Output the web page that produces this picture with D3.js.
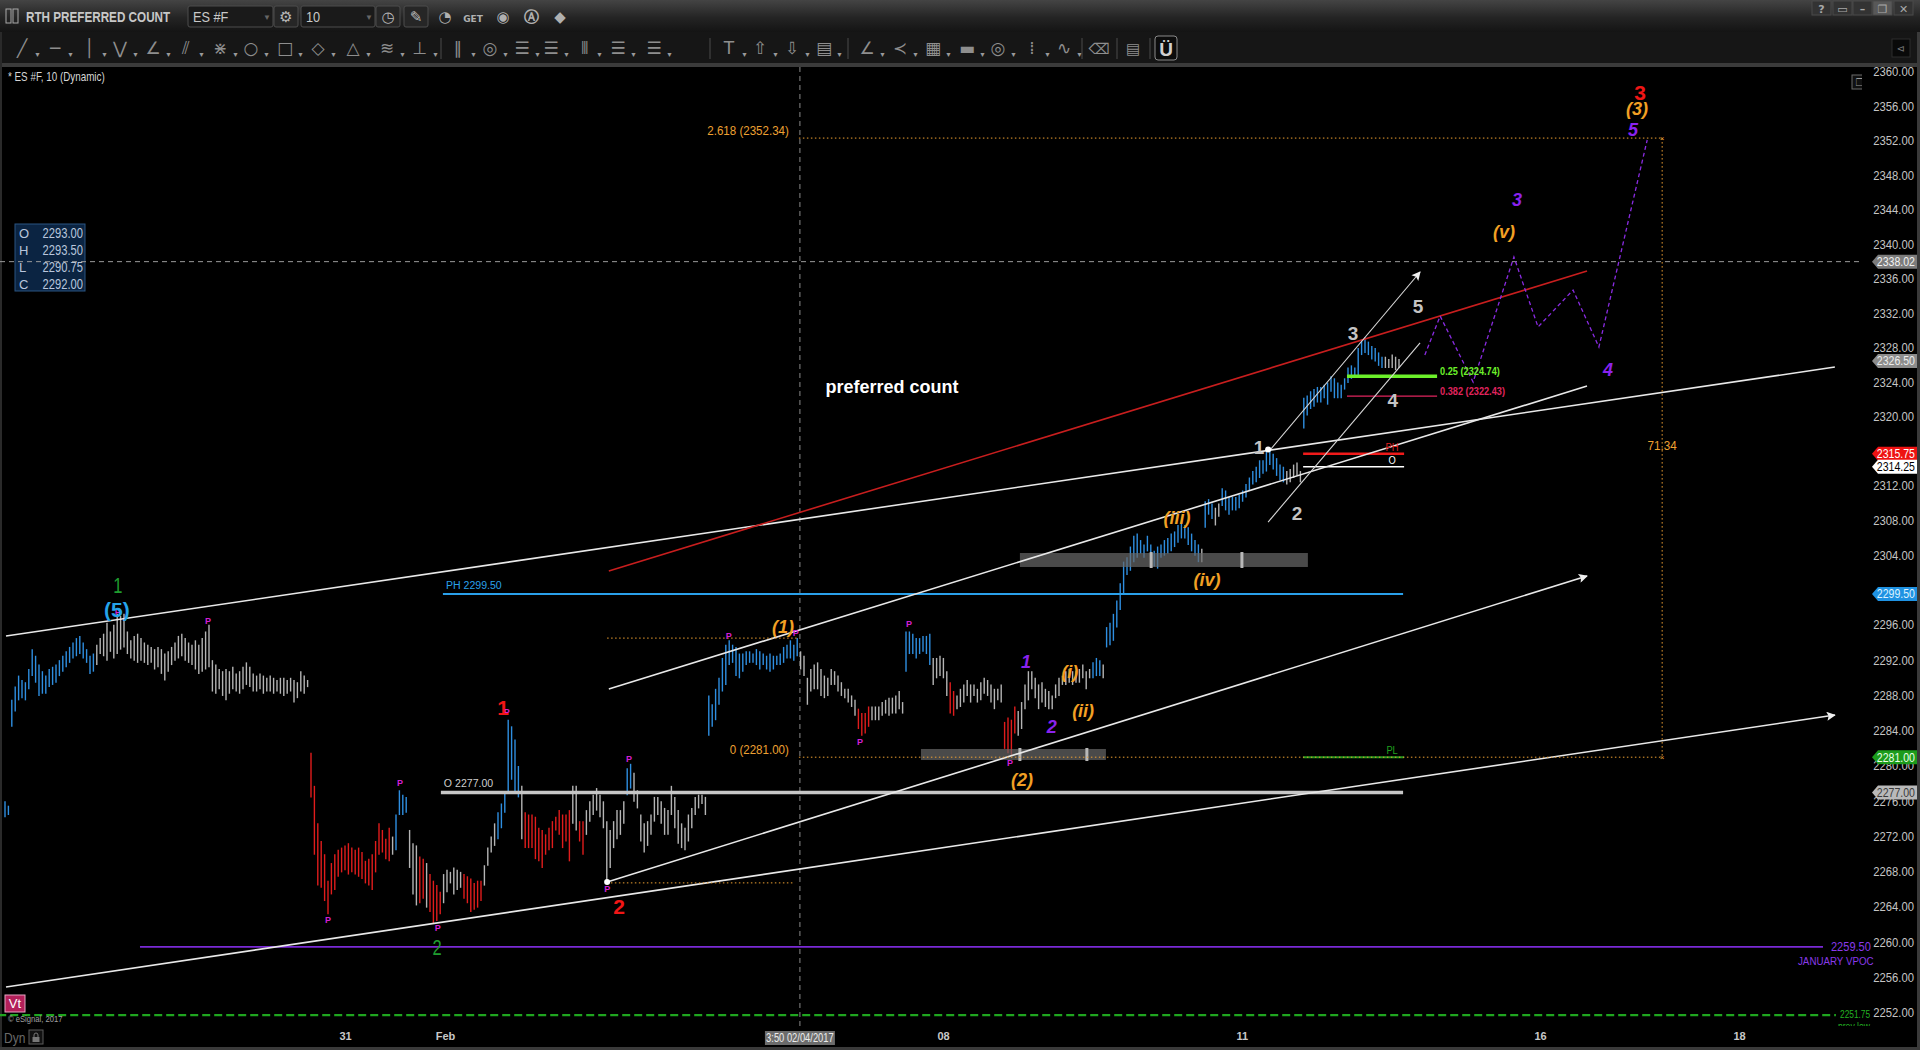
<!DOCTYPE html>
<html>
<head>
<meta charset="utf-8">
<title>RTH PREFERRED COUNT</title>
<script src="https://d3js.org/d3.v7.min.js"></script>
<style>
  html, body { margin: 0; padding: 0; background: #000; overflow: hidden; }
  #chart svg { display: block; }
</style>
</head>
<body>
<div id="chart"></div>
<script>
const SANS = "'Liberation Sans', Arial, sans-serif";

// ---------- 10 min bars: [high, low, trend]  u = up, d = down, n = neutral ----------
const segA = [[2276.0,2274.25,"u"],[2275.5,2274.5,"u"]];

const segB = [
  [2287.5,2284.5,"u"],[2289.0,2286.25,"u"],[2290.25,2287.5,"u"],[2289.75,2287.75,"u"],[2289.5,2287.5,"u"],
  [2291.0,2288.75,"u"],[2293.25,2290.25,"u"],[2292.5,2289.5,"u"],[2291.5,2288.0,"u"],[2290.75,2288.25,"u"],
  [2290.25,2288.25,"u"],[2291.0,2289.0,"u"],[2291.25,2289.25,"u"],[2291.5,2289.5,"u"],[2292.0,2290.25,"u"],
  [2292.5,2290.75,"u"],[2293.0,2291.25,"u"],[2293.5,2291.75,"u"],[2294.0,2292.25,"u"],[2294.5,2292.5,"u"],
  [2294.75,2292.75,"u"],[2294.0,2292.25,"u"],[2293.25,2291.75,"u"],[2292.5,2290.5,"u"],[2292.75,2290.75,"u"],
  [2293.75,2291.5,"n"],[2294.5,2292.75,"n"],[2295.0,2292.5,"n"],[2296.25,2292.0,"n"],[2295.25,2293.0,"n"],
  [2296.0,2292.25,"n"],[2297.25,2292.75,"n"],[2297.0,2293.25,"n"],[2297.25,2293.5,"n"],[2295.25,2292.75,"n"],
  [2294.25,2292.25,"n"],[2294.75,2292.0,"n"],[2295.0,2291.75,"n"],[2294.5,2292.0,"n"],[2294.0,2291.75,"n"],
  [2293.75,2291.5,"n"],[2293.5,2291.75,"n"],[2293.25,2291.0,"n"],[2293.5,2291.25,"n"],[2293.25,2290.5,"n"],
  [2292.75,2289.75,"n"],[2293.0,2290.75,"n"],[2293.5,2291.5,"n"],[2294.0,2292.0,"n"],[2294.75,2292.25,"n"],
  [2295.0,2292.5,"n"],[2294.5,2292.0,"n"],[2294.0,2291.75,"n"],[2293.75,2291.5,"n"],[2294.25,2291.0,"n"],
  [2293.75,2290.5,"n"],[2294.5,2290.75,"n"],[2295.25,2291.0,"n"],[2296.0,2291.25,"n"],[2292.0,2288.5,"n"],
  [2291.5,2288.25,"n"],[2291.0,2288.75,"n"],[2290.75,2288.0,"n"],[2291.0,2287.5,"n"],[2290.75,2288.25,"n"],
  [2291.25,2288.75,"n"],[2290.5,2288.5,"n"],[2290.75,2288.25,"n"],[2291.25,2288.75,"n"],[2291.75,2289.25,"n"],
  [2291.25,2289.0,"n"],[2290.5,2288.5,"n"],[2290.25,2288.5,"n"],[2290.5,2288.75,"n"],[2290.25,2288.25,"n"],
  [2290.0,2288.5,"n"],[2290.25,2288.5,"n"],[2290.0,2288.25,"n"],[2289.75,2288.5,"n"],[2290.0,2288.25,"n"],
  [2290.0,2288.0,"n"],[2289.75,2288.25,"n"],[2290.0,2288.5,"n"],[2289.75,2287.25,"n"],[2289.5,2287.75,"n"],
  [2290.75,2288.5,"n"],[2290.25,2288.25,"n"],[2289.75,2289.0,"n"]
];

const segC = [
  [2281.5,2276.5,"d"],[2277.75,2270.0,"d"],[2273.5,2266.5,"d"],[2271.5,2266.25,"d"],[2270.0,2264.75,"d"],
  [2267.0,2263.25,"d"],[2269.0,2265.5,"d"],[2270.0,2266.0,"d"],[2270.5,2267.5,"d"],[2270.75,2268.0,"d"],
  [2271.0,2268.25,"d"],[2271.25,2267.75,"d"],[2270.75,2268.0,"d"],[2270.5,2267.75,"d"],[2270.75,2267.5,"d"],
  [2270.25,2267.25,"d"],[2269.25,2266.75,"d"],[2269.5,2266.5,"d"],[2270.0,2266.0,"d"],[2271.5,2268.0,"d"],
  [2273.5,2270.0,"d"],[2272.75,2270.25,"d"],[2271.75,2269.5,"d"],[2273.0,2269.25,"d"],[2272.0,2270.0,"n"],
  [2274.5,2270.5,"u"],[2277.25,2274.5,"u"],[2276.75,2274.5,"u"],[2276.5,2274.75,"u"],[2272.75,2268.5,"n"],
  [2271.25,2265.5,"n"],[2271.0,2264.25,"n"],[2269.75,2264.5,"d"],[2269.5,2265.0,"d"],[2269.0,2264.0,"n"],
  [2267.75,2263.5,"d"],[2267.0,2262.25,"d"],[2266.5,2262.5,"d"],[2265.75,2263.25,"d"],[2267.75,2264.5,"n"],
  [2268.25,2265.75,"n"],[2268.0,2266.75,"n"],[2268.5,2265.5,"n"],[2268.25,2266.0,"n"],[2268.0,2266.25,"n"],
  [2267.75,2265.0,"d"],[2267.5,2264.5,"d"],[2267.25,2263.5,"d"],[2266.75,2263.75,"d"],[2267.0,2264.0,"d"],
  [2267.0,2264.75,"d"],[2268.75,2266.5,"n"],[2270.75,2268.75,"n"],[2272.0,2270.25,"n"],[2273.5,2271.0,"n"],
  [2274.75,2271.75,"u"],[2275.75,2273.0,"u"],[2277.0,2274.75,"u"],[2285.25,2277.0,"u"],[2284.5,2278.5,"u"],
  [2283.0,2277.0,"u"],[2280.0,2276.5,"u"],[2277.75,2271.75,"n"],[2274.75,2270.75,"d"],[2274.5,2270.75,"d"],
  [2274.5,2270.75,"d"],[2274.25,2269.5,"d"],[2273.0,2269.25,"d"],[2272.75,2268.5,"d"],[2272.25,2270.0,"d"],
  [2273.0,2270.5,"d"],[2273.75,2270.75,"d"],[2274.25,2272.75,"d"],[2275.0,2272.25,"d"],[2274.5,2270.75,"d"],
  [2274.5,2271.5,"d"],[2275.0,2269.25,"d"],[2277.75,2273.5,"n"],[2277.75,2272.75,"n"],[2273.75,2271.5,"d"],
  [2273.75,2270.0,"d"],[2275.0,2272.25,"n"],[2276.0,2273.75,"n"],[2276.75,2274.5,"n"],[2277.5,2275.0,"n"],
  [2276.75,2274.25,"n"],[2276.0,2273.0,"n"],[2273.75,2266.75,"n"],[2272.75,2268.5,"n"],[2273.75,2270.75,"n"],
  [2275.0,2271.75,"n"],[2275.0,2272.25,"n"],[2276.0,2273.5,"n"],[2279.75,2276.75,"u"],[2280.25,2277.5,"u"],
  [2279.25,2276.0,"n"],[2277.25,2275.25,"n"],[2274.5,2271.5,"n"],[2273.5,2270.25,"n"],[2273.75,2271.0,"n"],
  [2274.5,2272.25,"n"],[2276.5,2273.75,"n"],[2276.5,2274.5,"n"],[2276.0,2273.5,"n"],[2275.25,2272.25,"n"],
  [2275.0,2272.25,"n"],[2277.75,2274.5,"n"],[2276.5,2273.0,"n"],[2275.0,2271.25,"n"],[2273.5,2270.75,"n"],
  [2273.0,2270.5,"n"],[2274.5,2271.5,"n"],[2275.25,2273.0,"n"],[2276.5,2274.5,"n"],[2276.75,2275.25,"n"],
  [2276.75,2275.75,"n"],[2276.5,2274.5,"n"]
];

const segD = [
  [2288.0,2283.5,"u"],[2287.0,2284.5,"u"],[2288.75,2285.25,"u"],[2290.0,2287.0,"u"],[2292.25,2288.5,"u"],
  [2293.75,2289.25,"u"],[2294.25,2291.5,"u"],[2293.75,2291.75,"u"],[2293.5,2290.25,"u"],[2292.75,2290.0,"u"],
  [2292.75,2290.75,"u"],[2293.0,2291.5,"u"],[2293.0,2291.75,"u"],[2292.75,2291.75,"u"],[2293.25,2291.5,"u"],
  [2293.0,2291.0,"u"],[2292.75,2291.5,"u"],[2292.5,2291.0,"u"],[2292.75,2290.75,"u"],[2292.5,2291.0,"u"],
  [2292.5,2291.5,"u"],[2292.75,2291.5,"u"],[2293.5,2291.75,"u"],[2293.75,2292.25,"u"],[2294.25,2292.25,"u"],
  [2293.75,2292.0,"u"],[2294.5,2292.5,"u"],
  [2293.0,2291.0,"n"],[2292.5,2290.25,"n"],[2290.0,2287.0,"n"],[2291.0,2288.5,"n"],[2291.5,2288.75,"n"],
  [2291.75,2288.75,"n"],[2291.0,2288.0,"n"],[2290.25,2287.75,"n"],[2290.0,2288.0,"n"],[2291.0,2289.25,"n"],
  [2290.75,2289.25,"n"],[2290.25,2288.5,"n"],[2289.5,2288.0,"n"],[2288.75,2287.75,"n"],[2288.75,2287.25,"n"],
  [2288.0,2286.75,"n"],[2287.5,2285.75,"n"],[2286.5,2284.25,"d"],[2286.0,2283.5,"d"],[2286.0,2283.75,"d"],
  [2286.75,2284.5,"d"],[2286.75,2285.25,"n"],[2286.75,2285.25,"n"],[2286.75,2285.25,"n"],[2287.25,2285.75,"n"],
  [2287.5,2286.0,"n"],[2287.75,2285.75,"n"],[2287.75,2286.0,"n"],[2288.0,2286.0,"n"],[2288.5,2286.5,"n"],
  [2287.25,2286.0,"n"]
];

const segE = [
  [2295.25,2290.75,"u"],[2295.25,2292.75,"u"],[2295.0,2292.75,"u"],[2294.5,2292.25,"u"],[2294.5,2292.75,"u"],
  [2294.75,2293.0,"u"],[2294.75,2292.75,"u"],[2295.0,2291.5,"u"],[2292.25,2289.25,"n"],[2292.25,2290.0,"n"],
  [2292.5,2290.25,"n"],[2292.25,2290.0,"n"],[2290.75,2288.0,"n"],[2289.5,2286.0,"d"],[2288.5,2285.75,"d"],
  [2288.0,2286.5,"n"],[2288.75,2286.75,"n"],[2289.25,2287.25,"n"],[2289.75,2288.0,"n"],[2289.25,2287.25,"n"],
  [2289.25,2288.0,"n"],[2288.75,2287.25,"n"],[2289.5,2287.5,"n"],[2290.0,2288.25,"n"],[2289.75,2288.0,"n"],
  [2289.25,2287.25,"n"],[2288.75,2286.5,"n"],[2288.75,2287.5,"n"],[2289.25,2287.25,"n"],[2285.0,2282.0,"d"],
  [2285.5,2281.5,"d"],[2285.25,2281.25,"d"],[2286.75,2283.75,"d"],[2286.25,2283.5,"n"],[2287.25,2284.25,"n"],
  [2289.25,2286.5,"n"],[2290.75,2287.5,"n"],[2290.75,2288.75,"n"],[2290.0,2287.75,"n"],[2289.25,2286.5,"n"],
  [2289.5,2287.25,"n"],[2288.75,2286.75,"n"],[2288.5,2286.5,"n"],[2288.0,2286.5,"n"],[2289.25,2287.75,"n"],
  [2290.0,2288.0,"n"],[2290.25,2289.25,"n"],[2290.75,2289.25,"n"],[2291.0,2289.5,"n"],[2290.75,2289.25,"n"],
  [2290.75,2289.5,"n"],[2291.0,2289.5,"n"],[2291.5,2290.0,"n"],[2290.75,2288.75,"n"],[2291.0,2290.0,"n"],
  [2291.75,2290.0,"u"],[2292.25,2290.25,"u"],[2292.0,2290.25,"u"],[2291.5,2290.0,"n"],[2295.75,2293.5,"u"],
  [2296.25,2293.75,"u"],[2297.25,2294.25,"u"],[2298.75,2295.75,"u"],[2300.75,2297.75,"u"],[2303.25,2299.5,"u"],
  [2303.75,2301.75,"u"],[2305.0,2302.25,"u"],[2306.25,2303.25,"u"],[2306.5,2303.75,"u"],[2305.75,2304.25,"u"],
  [2305.25,2303.75,"u"],[2306.25,2304.5,"u"],[2305.25,2303.25,"u"],[2304.5,2302.75,"u"],[2305.0,2302.5,"u"],
  [2305.25,2303.75,"u"],[2305.75,2304.0,"u"],[2306.0,2304.25,"u"],[2306.5,2304.5,"u"],[2306.75,2305.0,"u"],
  [2307.5,2305.5,"u"],[2308.0,2306.0,"u"],[2307.5,2306.0,"u"],[2307.25,2305.25,"u"],[2306.5,2304.5,"u"],
  [2305.75,2304.0,"u"],[2305.25,2303.25,"u"],[2304.75,2303.25,"n"]
];

const segF = [
  [2310.25,2307.25,"u"],[2310.5,2308.75,"u"],[2310.0,2308.25,"u"],[2309.5,2307.5,"n"],[2310.0,2308.5,"n"],
  [2311.75,2309.75,"u"],[2311.5,2309.25,"u"],[2310.75,2308.75,"u"],[2310.75,2309.25,"u"],[2310.75,2309.25,"u"],
  [2311.0,2309.5,"u"],[2311.5,2310.25,"u"],[2312.25,2310.75,"u"],[2313.0,2311.5,"u"],[2313.75,2312.25,"u"],
  [2314.25,2312.5,"u"],[2315.0,2313.0,"u"],[2315.0,2313.5,"u"],[2316.0,2313.75,"u"],[2316.5,2314.5,"u"],
  [2315.75,2314.0,"u"],[2315.25,2313.25,"u"],[2314.5,2312.75,"u"],[2314.25,2312.5,"u"],[2313.75,2312.25,"n"],
  [2314.0,2312.5,"n"],[2314.5,2313.0,"n"],[2314.75,2313.25,"n"],[2313.75,2312.5,"n"]
];

const segG = [
  [2322.25,2318.75,"u"],[2322.5,2320.25,"u"],[2323.0,2321.0,"u"],[2323.25,2321.25,"u"],[2323.5,2321.75,"u"],
  [2323.5,2321.75,"u"],[2323.75,2322.25,"u"],[2324.0,2321.5,"u"],[2324.75,2323.0,"u"],[2324.5,2322.25,"u"],
  [2324.0,2322.25,"u"],[2323.75,2322.25,"u"],[2324.5,2323.25,"u"],[2325.75,2324.0,"u"],[2326.0,2324.5,"u"],
  [2325.75,2324.75,"u"],[2328.0,2324.75,"u"],[2329.0,2327.25,"u"],[2329.25,2327.5,"u"],[2328.75,2327.25,"u"],
  [2328.25,2326.75,"u"],[2328.0,2326.5,"u"],[2327.5,2326.0,"u"],[2327.0,2325.75,"u"],[2327.0,2325.75,"n"],
  [2326.75,2325.75,"n"],[2327.25,2325.75,"n"],[2327.0,2325.5,"n"],[2326.75,2325.75,"n"]
];

const bars = [].concat(segA, segB, segC, segD, segE, segF, segG);

// ---------- axes ----------
const priceTicks = [2360,2356,2352,2348,2344,2340,2336,2332,2328,2324,2320,2316,2312,2308,2304,2300,
  2296,2292,2288,2284,2280,2276,2272,2268,2264,2260,2256,2252];
// bar-index positions of the date labels (future days continue the same spacing)
const dateTicks = [
  {k: 100, label: "31"}, {k: 129.4, label: "Feb"}, {k: 275.9, label: "08"},
  {k: 363.8, label: "11"}, {k: 451.5, label: "16"}, {k: 510, label: "18"}
];
const cursor = {k: 233.8, p: 2338.02, label: "3:50 02/04/2017"};
const ohlc = [["O", "2293.00"], ["H", "2293.50"], ["L", "2290.75"], ["C", "2292.00"]];

const priceFlags = [
  {v: 2338.02, kind: "cursor"}, {v: 2326.50, kind: "last"}, {v: 2315.75, kind: "ph"},
  {v: 2314.25, kind: "o"}, {v: 2299.50, kind: "prevHigh"}, {v: 2281.00, kind: "pl"}, {v: 2277.00, kind: "open"}
];

// ---------- drawings (bar index, price) ----------
const trendLines = [
  {a: [0.3, 2294.74], b: [538.2, 2325.8], kind: "white"},
  {a: [0.3, 2254.94], b: [538.2, 2285.78], kind: "whiteArrow"},
  {a: [177.1, 2266.85], b: [465.3, 2301.59], kind: "whiteArrow"},
  {a: [177.6, 2288.73], b: [465.3, 2323.6], kind: "white"},
  {a: [177.6, 2302.17], b: [465.3, 2336.94], kind: "red"},
  {a: [372.1, 2316.19], b: [416.2, 2336.82], kind: "thinArrow"},
  {a: [371.5, 2307.84], b: [416.2, 2328.6], kind: "thin"}
];

const levels = [
  {p: 2299.50, k0: 128.8, k1: 411.2, kind: "prevHigh", label: "PH 2299.50"},
  {p: 2277.00, k0: 128.2, k1: 411.2, kind: "open", label: "O 2277.00"},
  {p: 2259.50, k0: 39.7, k1: 534.7, kind: "vpoc"},
  {p: 2251.75, k0: -2, k1: 538.5, kind: "prevLow"},
  {p: 2315.75, k0: 381.8, k1: 411.5, kind: "ph", label: "PH"},
  {p: 2314.25, k0: 381.8, k1: 411.5, kind: "o", label: "O"},
  {p: 2281.00, k0: 381.8, k1: 411.5, kind: "pl", label: "PL"},
  {p: 2324.74, k0: 394.7, k1: 421.2, kind: "fib25", label: "0.25 (2324.74)"},
  {p: 2322.43, k0: 394.7, k1: 421.2, kind: "fib382", label: "0.382 (2322.43)"}
];

const fibLevels = [{ratio: "2.618", p: 2352.34}, {ratio: "0", p: 2281.00}];
const fibSpan = {k0: 233.5, k1: 487.4, label: "71.34"};
const fibSource = [{p: 2294.5, k0: 177.1, k1: 232.9}, {p: 2266.75, k0: 178.2, k1: 231.8}];

const grayZones = [
  {k0: 269.4, k1: 323.8, hi: 2281.93, lo: 2280.68, marks: [298.5, 318.2]},
  {k0: 298.5, k1: 383.2, hi: 2304.25, lo: 2302.63, marks: [337.1, 363.8]}
];

const projection = [
  [417.6, 2327.2], [422.1, 2331.72], [431.8, 2324.07], [443.8, 2338.56],
  [450.9, 2330.45], [461.2, 2334.73], [468.8, 2328.13], [483.0, 2352.12]
];

const waveLabels = [
  {t: "1", k: 33.2, p: 2300.5, deg: "primary"},
  {t: "(5)", k: 32.9, p: 2297.7, deg: "cycle"},
  {t: "1", k: 146.5, p: 2286.6, deg: "major"},
  {t: "2", k: 127.1, p: 2259.5, deg: "primary"},
  {t: "2", k: 180.6, p: 2264.0, deg: "major"},
  {t: "(1)", k: 228.8, p: 2295.76, deg: "inter"},
  {t: "(2)", k: 299.1, p: 2278.5, deg: "inter"},
  {t: "1", k: 300.3, p: 2291.8, deg: "minor"},
  {t: "2", k: 307.9, p: 2284.4, deg: "minor"},
  {t: "(i)", k: 313.2, p: 2290.66, deg: "inter"},
  {t: "(ii)", k: 317.1, p: 2286.23, deg: "inter"},
  {t: "(iii)", k: 344.7, p: 2308.3, deg: "inter"},
  {t: "(iv)", k: 353.5, p: 2301.1, deg: "inter"},
  {t: "1", k: 368.8, p: 2316.5, deg: "sub"},
  {t: "2", k: 380.0, p: 2308.9, deg: "sub"},
  {t: "3", k: 396.5, p: 2329.75, deg: "sub"},
  {t: "4", k: 408.2, p: 2322.0, deg: "sub"},
  {t: "5", k: 415.6, p: 2332.8, deg: "sub"},
  {t: "(v)", k: 440.9, p: 2341.46, deg: "inter"},
  {t: "3", k: 444.7, p: 2345.2, deg: "minor"},
  {t: "4", k: 471.5, p: 2325.46, deg: "minor"},
  {t: "5", k: 478.8, p: 2353.28, deg: "minor"},
  {t: "(3)", k: 480.0, p: 2355.7, deg: "inter"},
  {t: "3", k: 480.9, p: 2357.6, deg: "major"}
];

const pivots = [
  [33.2, 2297.46], [59.7, 2296.44], [95, 2262.54], [116.2, 2278.07], [127.3, 2261.63],
  [147.6, 2286.12], [177.1, 2266.05], [183.5, 2280.79], [212.9, 2294.74], [232.6, 2295.08],
  [251.5, 2282.72], [265.9, 2296.1], [295.6, 2280.34]
];
const anchorDots = [[177.1, 2266.85], [371.5, 2316.25]];
const note = {t: "preferred count", k: 260.9, p: 2323.5};

// ---------- styles ----------
const trendColor = {u: "#2e8ee0", d: "#e01c1c", n: "#b4b4b4"};
const degStyle = {
  primary: {fill: "#1f9d2f", size: 22, weight: "normal", italic: false, squeeze: 0.75},
  cycle: {fill: "#25a3ea", size: 21, weight: "bold", italic: false},
  major: {fill: "#f01616", size: 21, weight: "bold", italic: false},
  inter: {fill: "#f2a024", size: 18, weight: "bold", italic: true},
  minor: {fill: "#8a22ee", size: 18, weight: "bold", italic: true},
  sub: {fill: "#c4c4c4", size: 19, weight: "bold", italic: false}
};
const flagStyle = {
  cursor: {bg: "#7c7c7c", fg: "#f2f2f2"}, last: {bg: "#8c8c8c", fg: "#ececec"},
  ph: {bg: "#ee1212", fg: "#ffffff"}, o: {bg: "#ffffff", fg: "#000000"},
  prevHigh: {bg: "#1f92e2", fg: "#dff2ff"}, pl: {bg: "#1c9c1c", fg: "#eaffea"},
  open: {bg: "#b9b9b9", fg: "#3a3a3a"}
};
const levelStyle = {
  prevHigh: {stroke: "#2aa0ea", width: 2, label: "#2aa0ea"},
  open: {stroke: "#c6c6c6", width: 3.5, label: "#cfcfcf"},
  vpoc: {stroke: "#7a2ad6", width: 1.6},
  prevLow: {stroke: "#1fa51f", width: 2.2, dash: "8,4"},
  ph: {stroke: "#f01a1a", width: 2.5, label: "#e02020"},
  o: {stroke: "#ffffff", width: 1.5, label: "#ffffff"},
  pl: {stroke: "#1f9a1f", width: 2, label: "#1fa01f"},
  fib25: {stroke: "#6cf02a", width: 3.5, label: "#6cf02a"},
  fib382: {stroke: "#e0245e", width: 1.2, label: "#e0245e"}
};
const lineStyle = {
  white: {stroke: "#e8e8e8", width: 1.6}, whiteArrow: {stroke: "#e8e8e8", width: 1.6, arrow: true},
  red: {stroke: "#c81e1e", width: 1.6}, thin: {stroke: "#d8d8d8", width: 1.1},
  thinArrow: {stroke: "#d8d8d8", width: 1.1, arrow: true}
};
const ORANGE = "#eea032";

// no condensed face is installed, so narrow texts are scaled horizontally about their x
function squeeze(sel, f) {
  sel.each(function() {
    const ax = +this.getAttribute("x") || 0;
    d3.select(this).attr("transform", `translate(${ax * (1 - f)},0) scale(${f},1)`);
  });
  return sel;
}

// ---------- canvas ----------
const W = 1920, H = 1050;
const svg = d3.select("#chart").append("svg").attr("width", W).attr("height", H)
  .style("font-family", SANS);

const x = d3.scaleLinear().domain([0, 410]).range([5, 1399]);
const y = d3.scaleLinear().domain([2252, 2299.5, 2360]).range([1013, 594, 72]);

const defs = svg.append("defs");
const tg = defs.append("linearGradient").attr("id", "titleGrad").attr("x1", 0).attr("y1", 0).attr("x2", 0).attr("y2", 1);
tg.append("stop").attr("offset", "0%").attr("stop-color", "#444");
tg.append("stop").attr("offset", "55%").attr("stop-color", "#242424");
tg.append("stop").attr("offset", "100%").attr("stop-color", "#141414");
defs.append("clipPath").attr("id", "plotClip").append("rect")
  .attr("x", 0).attr("y", 67).attr("width", 1862).attr("height", 959);
defs.append("clipPath").attr("id", "labelClip").append("rect")
  .attr("x", 0).attr("y", 67).attr("width", 1880).attr("height", 959);
defs.append("marker").attr("id", "arrow").attr("viewBox", "0 0 10 10")
  .attr("refX", 9).attr("refY", 5).attr("markerWidth", 11).attr("markerHeight", 9)
  .attr("markerUnits", "userSpaceOnUse").attr("orient", "auto")
  .append("path").attr("d", "M0,0 L10,5 L0,10 L2,5 Z").attr("fill", "#f0f0f0");

svg.append("rect").attr("width", W).attr("height", H).attr("fill", "#000");

// title bar
svg.append("rect").attr("width", W).attr("height", 32).attr("fill", "url(#titleGrad)");
svg.append("rect").attr("x", 6).attr("y", 9).attr("width", 5).attr("height", 14).attr("fill", "none").attr("stroke", "#aaa");
svg.append("rect").attr("x", 13).attr("y", 9).attr("width", 5).attr("height", 14).attr("fill", "none").attr("stroke", "#aaa");
squeeze(svg.append("text").attr("x", 26).attr("y", 22).attr("font-size", 15)
  .attr("font-weight", "bold").attr("fill", "#c8c8c8").text("RTH  PREFERRED COUNT"), 0.78);

function inputBox(x0, w, label) {
  svg.append("rect").attr("x", x0).attr("y", 6).attr("width", w).attr("height", 21).attr("rx", 2)
    .attr("fill", "#1a1a1a").attr("stroke", "#4c4c4c");
  squeeze(svg.append("text").attr("x", x0 + 5).attr("y", 22).attr("font-size", 15)
    .attr("fill", "#c8c8c8").text(label), 0.85);
  svg.append("text").attr("x", x0 + w - 10).attr("y", 20).attr("font-size", 8).attr("fill", "#666").text("▼");
}
inputBox(188, 85, "ES #F");
inputBox(301, 74, "10");
[[274, "⚙"], [376, "◷"], [404, "✎"]].forEach(([bx, g]) => {
  svg.append("rect").attr("x", bx).attr("y", 6).attr("width", 24).attr("height", 21).attr("rx", 2)
    .attr("fill", "#262626").attr("stroke", "#4c4c4c");
  svg.append("text").attr("x", bx + 12).attr("y", 22).attr("text-anchor", "middle").attr("font-family", "DejaVu Sans")
    .attr("font-size", 15).attr("fill", "#b8b8b8").text(g);
});
[[445, "◔"], [473, "GET"], [503, "◉"], [531, "Ⓐ"], [560, "◆"]].forEach(([bx, g]) => {
  svg.append("text").attr("x", bx).attr("y", 22).attr("text-anchor", "middle").attr("font-family", "DejaVu Sans")
    .attr("font-size", g === "GET" ? 9 : 15).attr("font-weight", "bold").attr("fill", "#b0b0b0").text(g);
});
[[1812, "?"], [1833, "▭"], [1853, "–"], [1873, "❐"], [1894, "✕"]].forEach(([bx, g], i) => {
  svg.append("rect").attr("x", bx).attr("y", 1).attr("width", 19).attr("height", 14)
    .attr("fill", i === 3 ? "#585858" : "#333").attr("stroke", "#4a4a4a");
  svg.append("text").attr("x", bx + 9.5).attr("y", 12.5).attr("text-anchor", "middle").attr("font-family", "DejaVu Sans")
    .attr("font-size", 11).attr("font-weight", "bold").attr("fill", "#a8a8a8").text(g);
});

// drawing toolbar
svg.append("rect").attr("y", 32).attr("width", W).attr("height", 31).attr("fill", "#161616");
svg.append("rect").attr("y", 63).attr("width", W).attr("height", 4).attr("fill", "#3b3b3b");
const tools = [
  [22, "╱"], [55, "─"], [89, "│"], [120, "⋁"], [153, "∠"], [186, "⫽"], [220, "⋇"], [251, "○"], [285, "□"],
  [318, "◇"], [353, "△"], [387, "≋"], [420, "⊥"], [458, "∥"], [490, "◎"], [522, "☰"], [551, "☰"], [584, "⦀"],
  [618, "☰"], [654, "☰"], [729, "T"], [760, "⇧"], [792, "⇩"], [824, "▤"], [867, "∠"], [900, "≺"], [933, "▦"],
  [967, "▬"], [998, "◎"], [1032, "⁞"], [1064, "∿"]
];
const toolG = svg.append("g");
toolG.selectAll("text.tool").data(tools).enter().append("text").attr("class", "tool")
  .attr("x", d => d[0]).attr("y", 54).attr("text-anchor", "middle").attr("font-family", "DejaVu Sans")
  .attr("font-size", 17).attr("fill", "#8e8e8e").text(d => d[1]);
toolG.selectAll("text.drop").data(tools).enter().append("text").attr("class", "drop")
  .attr("x", d => d[0] + 12).attr("y", 57).attr("font-size", 7).attr("fill", "#9a9a9a").text("▼");
[441, 710, 848, 1082, 1117, 1150].forEach(sx => {
  toolG.append("line").attr("x1", sx).attr("x2", sx).attr("y1", 38).attr("y2", 59).attr("stroke", "#4a4a4a");
});
toolG.append("text").attr("x", 1099).attr("y", 54).attr("text-anchor", "middle").attr("font-family", "DejaVu Sans")
  .attr("font-size", 15).attr("fill", "#8e8e8e").text("⌫");
toolG.append("text").attr("x", 1133).attr("y", 54).attr("text-anchor", "middle").attr("font-family", "DejaVu Sans")
  .attr("font-size", 15).attr("fill", "#8e8e8e").text("▤");
toolG.append("rect").attr("x", 1155).attr("y", 36).attr("width", 22).attr("height", 24).attr("rx", 3)
  .attr("fill", "#0c0c0c").attr("stroke", "#8a8a8a");
toolG.append("text").attr("x", 1166).attr("y", 56).attr("text-anchor", "middle").attr("font-size", 19)
  .attr("font-weight", "bold").attr("fill", "#d0d0d0").text("Ü");
toolG.append("rect").attr("x", 1892).attr("y", 39).attr("width", 18).attr("height", 18)
  .attr("fill", "#090909").attr("stroke", "#2c2c2c");
toolG.append("text").attr("x", 1901).attr("y", 52).attr("text-anchor", "middle").attr("font-family", "DejaVu Sans")
  .attr("font-size", 10).attr("fill", "#777").text("⊲");

// window frame
svg.append("rect").attr("x", 0).attr("y", 32).attr("width", 2).attr("height", H - 32).attr("fill", "#2a2a2a");
svg.append("rect").attr("x", W - 3).attr("y", 32).attr("width", 3).attr("height", H - 32).attr("fill", "#3a3a3a");
svg.append("rect").attr("x", 0).attr("y", H - 3).attr("width", W).attr("height", 3).attr("fill", "#3a3a3a");

// ---------- plot ----------
const plot = svg.append("g").attr("clip-path", "url(#plotClip)");

squeeze(plot.append("text").attr("x", 8).attr("y", 81).attr("font-size", 12)
  .attr("fill", "#d6d6d6").text("* ES #F, 10 (Dynamic)"), 0.82);
plot.append("rect").attr("x", 1852).attr("y", 75).attr("width", 16).attr("height", 14)
  .attr("fill", "#101010").attr("stroke", "#6a6a6a");
plot.append("text").attr("x", 1860).attr("y", 86).attr("text-anchor", "middle").attr("font-family", "DejaVu Sans")
  .attr("font-size", 10).attr("fill", "#9a9a9a").text("❐");

// ohlc readout
const ohlcG = plot.append("g");
ohlcG.append("rect").attr("x", 15).attr("y", 224).attr("width", 70).attr("height", 67)
  .attr("fill", "#0b2442").attr("stroke", "#2b5482");
ohlcG.selectAll("text.k").data(ohlc).enter().append("text").attr("class", "k")
  .attr("x", 19).attr("y", (d, i) => 238 + i * 17).attr("font-size", 13)
  .attr("fill", "#b8c6dc").text(d => d[0]);
squeeze(ohlcG.selectAll("text.v").data(ohlc).enter().append("text").attr("class", "v")
  .attr("x", 83).attr("y", (d, i) => 238 + i * 17).attr("text-anchor", "end")
  .attr("font-size", 14).attr("fill", "#b8c6dc").text(d => d[1]), 0.8);

// cursor crosshair
plot.append("line").attr("x1", 0).attr("x2", 1862).attr("y1", y(cursor.p)).attr("y2", y(cursor.p))
  .attr("stroke", "#9a9a9a").attr("stroke-dasharray", "5,4");
plot.append("line").attr("x1", x(cursor.k)).attr("x2", x(cursor.k)).attr("y1", 67).attr("y2", 1026)
  .attr("stroke", "#8a8a8a").attr("stroke-dasharray", "5,4");

// price bars
plot.append("g").selectAll("line").data(bars).enter().append("line")
  .attr("x1", (d, i) => x(i)).attr("x2", (d, i) => x(i))
  .attr("y1", d => y(d[0])).attr("y2", d => y(d[1]) + 0.5)
  .attr("stroke", d => trendColor[d[2]]).attr("stroke-width", 1.4);

// gray consolidation zones
grayZones.forEach(z => {
  plot.append("rect").attr("x", x(z.k0)).attr("y", y(z.hi)).attr("width", x(z.k1) - x(z.k0))
    .attr("height", y(z.lo) - y(z.hi)).attr("fill", "#6a6a6a").attr("opacity", 0.7);
  z.marks.forEach(m => {
    plot.append("rect").attr("x", x(m) - 1.5).attr("y", y(z.hi) - 1).attr("width", 3)
      .attr("height", y(z.lo) - y(z.hi) + 2).attr("fill", "#b8b8b8");
  });
});

// horizontal levels
levels.forEach(l => {
  const s = levelStyle[l.kind];
  plot.append("line").attr("x1", x(l.k0)).attr("x2", x(l.k1)).attr("y1", y(l.p)).attr("y2", y(l.p))
    .attr("stroke", s.stroke).attr("stroke-width", s.width).attr("stroke-dasharray", s.dash || null);
});

// trend lines
trendLines.forEach(t => {
  const s = lineStyle[t.kind];
  plot.append("line").attr("x1", x(t.a[0])).attr("y1", y(t.a[1])).attr("x2", x(t.b[0])).attr("y2", y(t.b[1]))
    .attr("stroke", s.stroke).attr("stroke-width", s.width)
    .attr("marker-end", s.arrow ? "url(#arrow)" : null);
});

// fibonacci extension drawing
fibSource.forEach(f => {
  plot.append("line").attr("x1", x(f.k0)).attr("x2", x(f.k1)).attr("y1", y(f.p)).attr("y2", y(f.p))
    .attr("stroke", ORANGE).attr("stroke-dasharray", "1.5,2.5");
});
fibLevels.forEach(f => {
  plot.append("line").attr("x1", x(fibSpan.k0)).attr("x2", x(fibSpan.k1)).attr("y1", y(f.p)).attr("y2", y(f.p))
    .attr("stroke", ORANGE).attr("stroke-dasharray", "1.5,2.5");
  squeeze(plot.append("text").attr("x", x(fibSpan.k0) - 10).attr("y", y(f.p) - 3).attr("text-anchor", "end")
    .attr("font-size", 13).attr("fill", ORANGE)
    .text(`${f.ratio} (${d3.format(".2f")(f.p)})`), 0.89);
  plot.append("text").attr("x", x(fibSpan.k1)).attr("y", y(f.p) + 3).attr("text-anchor", "middle")
    .attr("font-size", 8).attr("fill", ORANGE).text("×");
});
plot.append("line").attr("x1", x(fibSpan.k1)).attr("x2", x(fibSpan.k1))
  .attr("y1", y(fibLevels[0].p)).attr("y2", y(fibLevels[1].p))
  .attr("stroke", ORANGE).attr("stroke-dasharray", "1.5,2.5");
squeeze(plot.append("text").attr("x", x(fibSpan.k1)).attr("y", y((fibLevels[0].p + fibLevels[1].p) / 2))
  .attr("dy", "0.35em").attr("text-anchor", "middle").attr("font-size", 13)
  .attr("fill", ORANGE).text(fibSpan.label), 0.9);

// projected path
plot.append("path").datum(projection)
  .attr("d", d3.line().x(d => x(d[0])).y(d => y(d[1])))
  .attr("fill", "none").attr("stroke", "#8a2be2").attr("stroke-width", 1.3).attr("stroke-dasharray", "4,3");

// level labels
const lab = svg.append("g").attr("clip-path", "url(#labelClip)");
levels.filter(l => l.label).forEach(l => {
  const s = levelStyle[l.kind];
  let tx, ty, anchor = "start", size = 11.5, weight = "normal", f = 0.92;
  if (l.kind === "prevHigh" || l.kind === "open") { tx = x(l.k0) + 3; ty = y(l.p) - 5; }
  else if (l.kind === "fib25" || l.kind === "fib382") { tx = x(l.k1) + 3; ty = y(l.p) - 1; size = 10; weight = "bold"; }
  else { tx = x(l.k1) - 12; ty = y(l.p) - 3; anchor = "middle"; size = 11; f = 0.85; }
  squeeze(lab.append("text").attr("x", tx).attr("y", ty).attr("text-anchor", anchor)
    .attr("font-size", size).attr("font-weight", weight).attr("fill", s.label).text(l.label), f);
});
squeeze(lab.append("text").attr("x", 1831).attr("y", y(2259.5)).attr("dy", "0.35em")
  .attr("font-size", 13).attr("fill", "#8a3aea").text("2259.50"), 0.85);
squeeze(lab.append("text").attr("x", 1798).attr("y", y(2259.5) + 14).attr("dy", "0.35em")
  .attr("font-size", 11.5).attr("fill", "#8a3aea").text("JANUARY VPOC"), 0.85);
squeeze(lab.append("text").attr("x", 1840).attr("y", y(2251.75) - 1).attr("dy", "0.35em")
  .attr("font-size", 11).attr("fill", "#22b022").text("2251.75"), 0.76);
squeeze(lab.append("text").attr("x", 1838).attr("y", y(2251.75) + 11).attr("dy", "0.35em")
  .attr("font-size", 11).attr("fill", "#22b022").text("prev low"), 0.78);

// pivot markers and anchor dots
plot.append("g").selectAll("text").data(pivots).enter().append("text")
  .attr("x", d => x(d[0])).attr("y", d => y(d[1])).attr("dy", "0.35em").attr("text-anchor", "middle")
  .attr("font-size", 9).attr("font-weight", "bold").attr("fill", "#d21fd2").text("P");
plot.append("g").selectAll("circle").data(anchorDots).enter().append("circle")
  .attr("cx", d => x(d[0])).attr("cy", d => y(d[1])).attr("r", 3).attr("fill", "#fff");

// wave labels
const waves = plot.append("g").selectAll("text").data(waveLabels).enter().append("text")
  .attr("x", d => x(d.k)).attr("y", d => y(d.p)).attr("dy", "0.35em").attr("text-anchor", "middle")
  .attr("font-size", d => degStyle[d.deg].size)
  .attr("font-weight", d => degStyle[d.deg].weight)
  .attr("font-style", d => degStyle[d.deg].italic ? "italic" : "normal")
  .attr("fill", d => degStyle[d.deg].fill).text(d => d.t);
squeeze(waves.filter(d => degStyle[d.deg].squeeze), 0.75);

plot.append("text").attr("x", x(note.k)).attr("y", y(note.p)).attr("dy", "0.35em").attr("text-anchor", "middle")
  .attr("font-size", 18).attr("font-weight", "bold").attr("fill", "#ffffff").text(note.t);

// ---------- price axis ----------
// tick labels that sit right under a price flag are hidden, as in the platform
const visibleTicks = priceTicks.filter(t => !priceFlags.some(f => Math.abs(y(f.v) - y(t)) < 8));
const yAxisG = svg.append("g").attr("transform", "translate(1914,0)")
  .call(d3.axisLeft(y).tickValues(visibleTicks).tickSize(0).tickPadding(0).tickFormat(d3.format(".2f")));
yAxisG.select(".domain").remove();
squeeze(yAxisG.selectAll("text").attr("font-size", 12).attr("fill", "#c4c4c4"), 0.94);

const flags = svg.append("g").selectAll("g").data(priceFlags).enter().append("g")
  .attr("transform", d => `translate(0,${y(d.v)})`);
flags.append("path").attr("d", "M1872,0 L1878,-7 L1917,-7 L1917,7 L1878,7 Z")
  .attr("fill", d => flagStyle[d.kind].bg);
squeeze(flags.append("text").attr("x", 1915).attr("dy", "0.36em").attr("text-anchor", "end")
  .attr("font-size", 12).attr("fill", d => flagStyle[d.kind].fg)
  .text(d => d3.format(".2f")(d.v)), 0.88);

// ---------- time axis ----------
const xAxisG = svg.append("g").attr("transform", "translate(0,1032)")
  .call(d3.axisBottom(x).tickValues(dateTicks.map(d => d.k)).tickSize(0).tickPadding(0)
    .tickFormat((d, i) => dateTicks[i].label));
xAxisG.select(".domain").remove();
xAxisG.selectAll("text").attr("font-size", 11).attr("font-weight", "bold").attr("fill", "#c8c8c8");

svg.append("rect").attr("x", x(cursor.k) - 35).attr("y", 1031).attr("width", 70).attr("height", 14)
  .attr("fill", "#6c6c6c");
squeeze(svg.append("text").attr("x", x(cursor.k)).attr("y", 1042).attr("text-anchor", "middle")
  .attr("font-size", 12).attr("fill", "#ececec").text(cursor.label), 0.78);

// bottom-left widgets
svg.append("rect").attr("x", 5).attr("y", 995).attr("width", 20).attr("height", 17)
  .attr("fill", "#b3205a").attr("stroke", "#e6a6c4");
svg.append("text").attr("x", 15).attr("y", 1008).attr("text-anchor", "middle").attr("font-size", 13)
  .attr("fill", "#fff").text("Vt");
squeeze(svg.append("text").attr("x", 8).attr("y", 1022).attr("font-size", 9)
  .attr("fill", "#a0a0a0").text("© eSignal, 2017"), 0.85);
squeeze(svg.append("text").attr("x", 4).attr("y", 1043).attr("font-size", 15)
  .attr("fill", "#6a6a6a").text("Dyn"), 0.8);
svg.append("rect").attr("x", 29).attr("y", 1030).attr("width", 14).attr("height", 14)
  .attr("fill", "#111").attr("stroke", "#5a5a5a");
svg.append("rect").attr("x", 32.5).attr("y", 1037).attr("width", 7).attr("height", 5).attr("fill", "#777");
svg.append("path").attr("d", "M34,1037 v-2 a2,2 0 0 1 4,0 v2").attr("fill", "none").attr("stroke", "#777");
</script>
</body>
</html>
